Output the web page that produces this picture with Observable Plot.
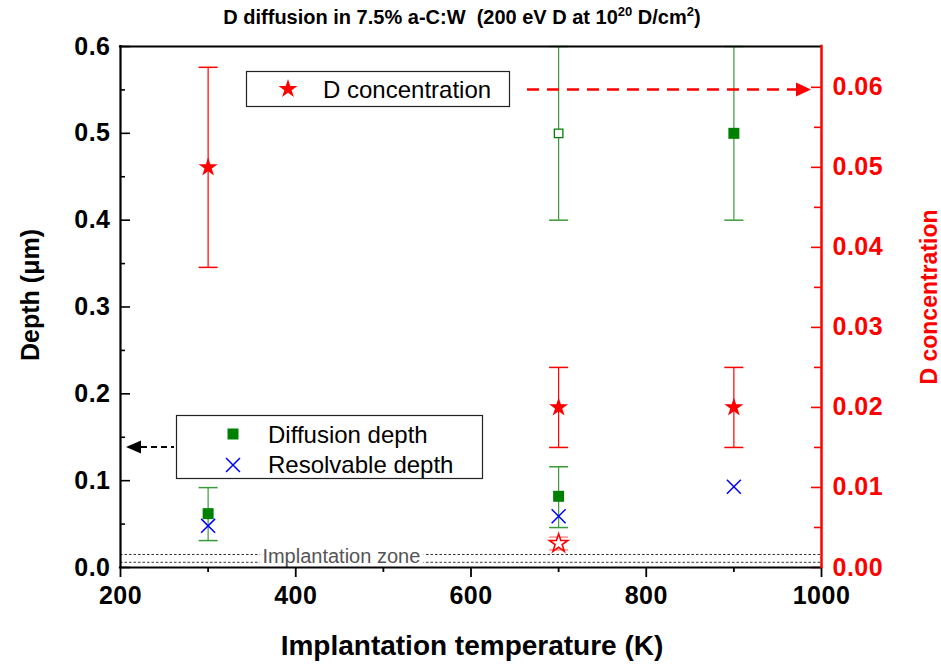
<!DOCTYPE html>
<html><head><meta charset="utf-8">
<script src="https://cdn.jsdelivr.net/npm/d3@7"></script>
<script src="https://cdn.jsdelivr.net/npm/@observablehq/plot@0.6"></script>
<style>
body{margin:0;background:#fff;}
#wrap{position:relative;width:941px;height:664px;font-family:"Liberation Sans",Arial,sans-serif;}
#title{position:absolute;top:6px;left:0;width:924px;text-align:center;font-weight:bold;font-size:20px;white-space:nowrap;}
#title sup{font-size:13px;vertical-align:0.6em;line-height:0;}
#wrap svg text{font-family:"Liberation Sans",Arial,sans-serif;}
g[aria-label$="tick label"] text{letter-spacing:0.5px;}
</style></head>
<body><div id="wrap"><div id="title">D diffusion in 7.5% a-C:W&nbsp;&nbsp;(200 eV D at 10<sup>20</sup> D/cm<sup>2</sup>)</div></div>
<script>
// ---- data ----
const temperatureTicks = [200, 400, 600, 800, 1000];
const temperatureMinorTicks = [300, 500, 700, 900];
const depthTicks = [0, 0.1, 0.2, 0.3, 0.4, 0.5, 0.6];
const depthMinorTicks = [0.05, 0.15, 0.25, 0.35, 0.45, 0.55];
const concTicks = [0, 0.01, 0.02, 0.03, 0.04, 0.05, 0.06];
const concMinorTicks = [0.005, 0.015, 0.025, 0.035, 0.045, 0.055];

const diffT = [300, 700, 700, 900];
const diffDepth = [0.062, 0.082, 0.5, 0.5];
const diffLow = [0.031, 0.046, 0.4, 0.4];
const diffHigh = [0.092, 0.116, 0.6, 0.6];
const diffHollow = [false, false, true, false];

const resT = [300, 700, 900];
const resDepth = [0.048, 0.059, 0.093];

const concT = [300, 700, 900, 700];
const concVal = [0.050, 0.020, 0.020, 0.003];
const concLow = [0.0375, 0.015, 0.015, 0.0022];
const concHigh = [0.0625, 0.025, 0.025, 0.0038];
const concHollow = [false, false, false, true];

const implantLines = [0.006, 0.015];
const implantLabel = {t: 452, depth: 0.0127, text: "Implantation zone"};

const depthMax = 0.6;
const concMax = 0.0651;
const k = depthMax / concMax;

// ---- rows ----
const diff = diffT.map((t, i) => ({t, d: diffDepth[i], lo: diffLow[i], hi: diffHigh[i], hollow: diffHollow[i]}));
const res = resT.map((t, i) => ({t, d: resDepth[i]}));
const conc = concT.map((t, i) => ({t, c: concVal[i] * k, lo: concLow[i] * k, hi: concHigh[i] * k, hollow: concHollow[i]}));

const cap = {draw(ctx) { ctx.moveTo(-9.5, 0); ctx.lineTo(9.5, 0); }};
const W = 941, H = 664, mL = 120, mR = 120, mT = 46, mB = 97;
const pw = W - mL - mR;

const chart = Plot.plot({
  width: W, height: H, marginTop: mT, marginBottom: mB, marginLeft: mL, marginRight: mR,
  style: {fontFamily: '"Liberation Sans", Arial, sans-serif', fontWeight: "bold", fontSize: "25px", background: "transparent", overflow: "visible"},
  x: {domain: [200, 1000], axis: null, label: null},
  y: {domain: [0, depthMax], axis: null, label: null},
  marks: [
    Plot.ruleY(implantLines, {stroke: "#333", strokeWidth: 1, strokeDasharray: "2.5,2"}),
    Plot.text([implantLabel], {x: "t", y: "depth", text: "text", fill: "#555", stroke: "white", strokeWidth: 9, fontWeight: "normal", fontSize: 20}),
    // error bars: diffusion depth
    Plot.ruleX(diff, {x: "t", y1: "lo", y2: "hi", stroke: "#3a9a3a", strokeWidth: 1.2}),
    Plot.dot(diff, {x: "t", y: "lo", symbol: cap, fill: "none", stroke: "#3a9a3a", strokeWidth: 1.5}),
    Plot.dot(diff, {x: "t", y: "hi", symbol: cap, fill: "none", stroke: "#3a9a3a", strokeWidth: 1.5}),
    // error bars: concentration
    Plot.ruleX(conc, {x: "t", y1: "lo", y2: "hi", stroke: d => d.hollow ? "#ff8c8c" : "red", strokeWidth: 1.2}),
    Plot.dot(conc, {x: "t", y: "lo", symbol: cap, fill: "none", stroke: d => d.hollow ? "#ff8c8c" : "red", strokeWidth: 1.5}),
    Plot.dot(conc, {x: "t", y: "hi", symbol: cap, fill: "none", stroke: d => d.hollow ? "#ff8c8c" : "red", strokeWidth: 1.5}),
    // points
    Plot.dot(diff.filter(d => !d.hollow), {x: "t", y: "d", symbol: "square", r: 6.2, fill: "#008000"}),
    Plot.dot(diff.filter(d => d.hollow), {x: "t", y: "d", symbol: "square", r: 4.8, fill: "white", stroke: "#008000", strokeWidth: 1.3}),
    Plot.dot(res, {x: "t", y: "d", symbol: "times", r: 6.4, stroke: "blue", strokeWidth: 1.5}),
    Plot.dot(conc.filter(d => !d.hollow), {x: "t", y: "c", symbol: "star", r: 6, fill: "red"}),
    Plot.dot(conc.filter(d => d.hollow), {x: "t", y: "c", symbol: "star", r: 5.8, fill: "white", stroke: "red", strokeWidth: 1.6}),
    // ticks (inside for y, outside for x)
    Plot.tickY(depthTicks, {insetRight: pw - 10, stroke: "black", strokeWidth: 1.6}),
    Plot.tickY(depthMinorTicks, {insetRight: pw - 5, stroke: "black", strokeWidth: 1.6}),
    Plot.tickY(concTicks.map(c => c * k), {insetLeft: pw - 10, stroke: "red", strokeWidth: 1.6}),
    Plot.tickY(concMinorTicks.map(c => c * k), {insetLeft: pw - 7, stroke: "red", strokeWidth: 1.6}),
    Plot.axisX(temperatureTicks, {tickSize: 10, tickPadding: 9, strokeWidth: 1.8, color: "black", label: null, tickFormat: d => String(d)}),
    Plot.axisX(temperatureMinorTicks, {tickSize: 5, strokeWidth: 1.8, color: "black", label: null, tickFormat: () => ""}),
    Plot.axisY(depthTicks, {tickSize: 0, tickPadding: 10, color: "black", label: null, tickFormat: d => d.toFixed(1)}),
    Plot.axisY(concTicks.map(c => c * k), {anchor: "right", tickSize: 0, tickPadding: 11, color: "red", label: null, tickFormat: d => (d / k).toFixed(2)}),
    // frame
    Plot.ruleY([0, depthMax], {stroke: "black", strokeWidth: 2.2, strokeLinecap: "square"}),
    Plot.ruleX([200], {stroke: "black", strokeWidth: 2.2, strokeLinecap: "square"}),
    Plot.ruleX([1000], {stroke: "red", strokeWidth: 2.5, strokeLinecap: "square"})
  ]
});
document.getElementById("wrap").appendChild(chart);

// ---- annotation overlay (legends, arrows, axis titles) ----
const ov = d3.select("#wrap").append("svg")
  .attr("width", W).attr("height", H)
  .style("position", "absolute").style("left", 0).style("top", 0)
  .style("font-family", '"Liberation Sans", Arial, sans-serif');

ov.append("text").attr("transform", "translate(30,295) rotate(-90)")
  .attr("text-anchor", "middle").attr("dominant-baseline", "central")
  .attr("font-size", 25).attr("font-weight", "bold").text("Depth (\u03bcm)");
ov.append("text").attr("transform", "translate(929,297) rotate(-90)")
  .attr("text-anchor", "middle").attr("dominant-baseline", "central")
  .attr("font-size", 23).attr("font-weight", "bold").attr("fill", "red").text("D concentration");
ov.append("text").attr("x", 472).attr("y", 655).attr("text-anchor", "middle")
  .attr("font-size", 28).attr("font-weight", "bold").text("Implantation temperature (K)");

// legend 1
ov.append("rect").attr("x", 246.5).attr("y", 71.5).attr("width", 263).attr("height", 35)
  .attr("fill", "white").attr("stroke", "#222").attr("stroke-width", 1.2);
ov.append("path").attr("d", d3.symbol(d3.symbolStar, 36 * Math.PI)()).attr("transform", "translate(288,89)").attr("fill", "red");
ov.append("text").attr("x", 323).attr("y", 97.5).attr("font-size", 24).text("D concentration");
ov.append("line").attr("x1", 527).attr("x2", 797).attr("y1", 89.5).attr("y2", 89.5)
  .attr("stroke", "red").attr("stroke-width", 2.6).attr("stroke-dasharray", "12,8");
ov.append("path").attr("d", "M796,82.5L811,89.5L796,96.5Z").attr("fill", "red");

// legend 2
ov.append("rect").attr("x", 176.5).attr("y", 415.5).attr("width", 306).attr("height", 63)
  .attr("fill", "white").attr("stroke", "#222").attr("stroke-width", 1.2);
ov.append("path").attr("d", d3.symbol(d3.symbolSquare, 6.2 * 6.2 * Math.PI)()).attr("transform", "translate(233,434)").attr("fill", "#008000");
ov.append("path").attr("d", d3.symbol(d3.symbolTimes, 6.4 * 6.4 * Math.PI)()).attr("transform", "translate(233,465)").attr("fill", "none").attr("stroke", "blue").attr("stroke-width", 1.5);
ov.append("text").attr("x", 268).attr("y", 443).attr("font-size", 24).text("Diffusion depth");
ov.append("text").attr("x", 268).attr("y", 473).attr("font-size", 24).text("Resolvable depth");
ov.append("line").attr("x1", 141).attr("x2", 174).attr("y1", 447).attr("y2", 447)
  .attr("stroke", "black").attr("stroke-width", 2).attr("stroke-dasharray", "6,4");
ov.append("path").attr("d", "M141,440.5L126,447L141,453.5Z").attr("fill", "black");
</script>
</body></html>
